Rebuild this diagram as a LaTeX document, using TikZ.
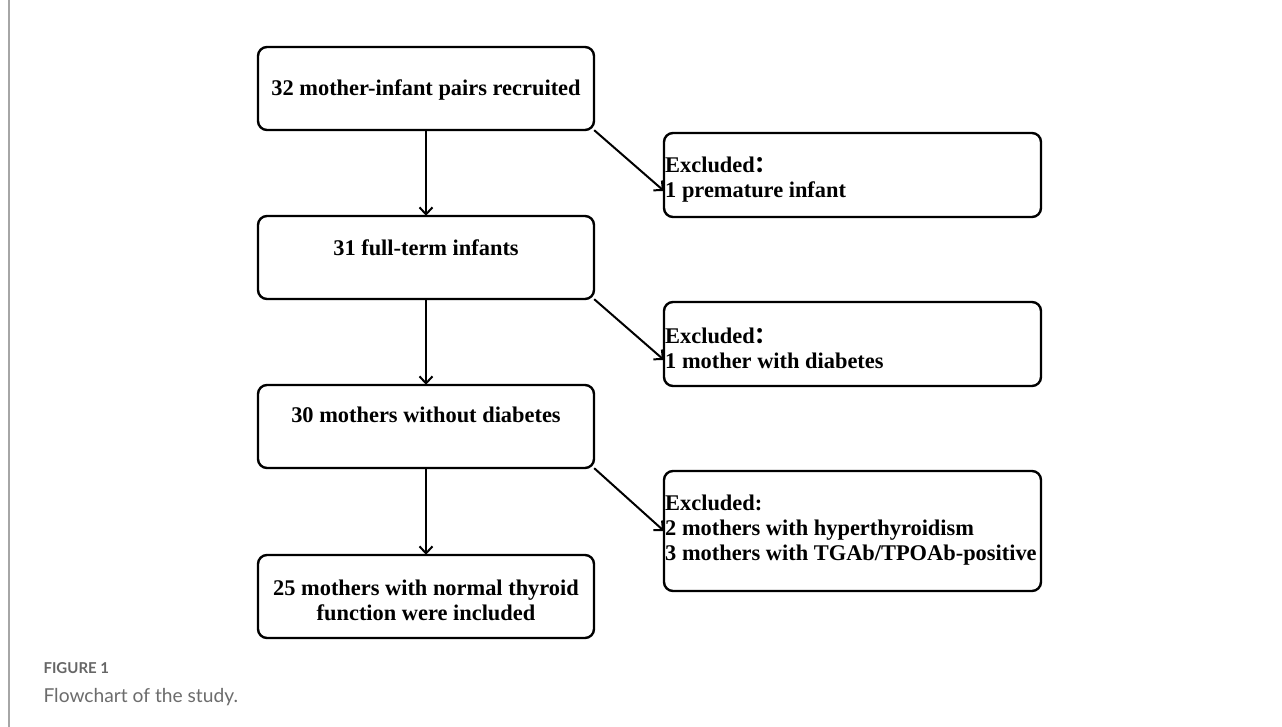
\documentclass[tikz,border=0pt]{standalone}
\usepackage{fontspec}
\setmainfont{Liberation Serif}
\newfontfamily\capfont{Lato}
\newfontfamily\cjkfont{Noto Sans CJK SC}
\newcommand{\fwcolon}{{\cjkfont\bfseries ：}}
\usetikzlibrary{arrows.meta}
\begin{document}
\begin{tikzpicture}[x=1pt,y=-1pt,
  box/.style={draw=black,line width=2.4pt,rounded corners=9pt,inner sep=0pt},
  lbl/.style={font=\bfseries\fontsize{22.4}{25}\selectfont,align=center},
  rlbl/.style={font=\bfseries\fontsize{22.4}{25}\selectfont,align=left,anchor=west,inner sep=1pt},
  arr/.style={line width=2pt,-{Straight Barb[length=7pt,width=13pt,line width=2pt]}}]
\useasboundingbox (0,0) rectangle (1282,727);
\fill[white] (0,0) rectangle (1282,727);
\draw[gray!70,line width=1.2pt] (9,0) -- (9,727);
% left boxes
\draw[box] (258,47) rectangle (594,130);
\node[minimum width=336pt,minimum height=83pt,inner sep=0pt] (b1) at (426,88.5) {};
\node[lbl] (t1) at (426,90) {32 mother-infant pairs recruited};
\draw[box] (258,216) rectangle (594,299);
\node[minimum width=336pt,minimum height=83pt,inner sep=0pt] (b2) at (426,257.5) {};
\node[lbl] (t2) at (426,248) {31 full-term infants};
\draw[box] (258,385) rectangle (594,468);
\node[minimum width=336pt,minimum height=83pt,inner sep=0pt] (b3) at (426,426.5) {};
\node[lbl] (t3) at (426,415) {30 mothers without diabetes};
\draw[box] (258,555) rectangle (594,638);
\node[minimum width=336pt,minimum height=83pt,inner sep=0pt] (b4) at (426,596.5) {};
\node[lbl] (t4) at (426,600) {25 mothers with normal thyroid\\function were included};
% right boxes
\draw[box] (664,133) rectangle (1041,217);
\node[minimum width=377pt,minimum height=84pt,inner sep=0pt] (r1) at (852.5,175) {};
\node[rlbl] (rt1) at (664,180) {Excluded\fwcolon\\1 premature infant};
\draw[box] (664,302) rectangle (1041,386);
\node[minimum width=377pt,minimum height=84pt,inner sep=0pt] (r2) at (852.5,344) {};
\node[rlbl] (rt2) at (664,348) {Excluded\fwcolon\\1 mother with diabetes};
\draw[box] (664,471) rectangle (1041,591);
\node[minimum width=377pt,minimum height=120pt,inner sep=0pt] (r3) at (852.5,531) {};
\node[rlbl] (rt3) at (664,530) {Excluded:\\2 mothers with hyperthyroidism\\3 mothers with TGAb/TPOAb-positive};
% arrows
\draw[arr] (b1.south) -- (b2.north);
\draw[arr] (b2.south) -- (b3.north);
\draw[arr] (b3.south) -- (b4.north);
\coordinate (e1) at (664,191);
\coordinate (e2) at (664,360);
\coordinate (e3) at (664,531);
\draw[arr] (b1.south east) -- (e1);
\draw[arr] (b2.south east) -- (e2);
\draw[arr] (b3.south east) -- (e3);
% caption
\node[anchor=west,font=\capfont\bfseries\fontsize{15}{17}\selectfont,text=gray!80!black] (cap1) at (40,668) {FIGURE 1};
\node[anchor=west,font=\capfont\fontsize{19.2}{21}\selectfont,text=gray!85!black] (cap2) at (40,697) {Flowchart of the study.};
\end{tikzpicture}
\end{document}
